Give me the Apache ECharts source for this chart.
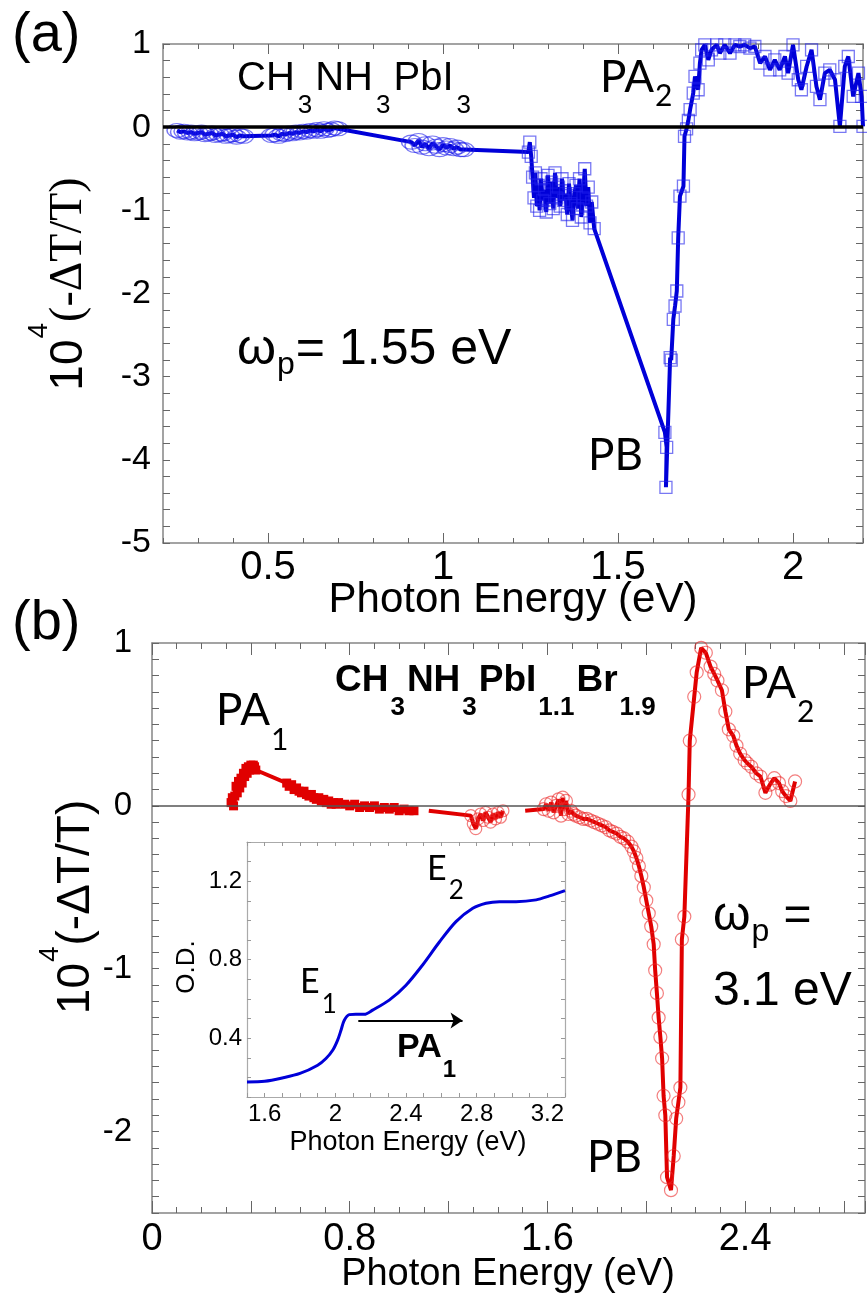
<!DOCTYPE html>
<html>
<head>
<meta charset="utf-8">
<title>Transient photoinduced absorption spectra</title>
<script src="https://cdn.jsdelivr.net/npm/echarts@6/dist/echarts.min.js"></script>
<style>
html, body { margin: 0; padding: 0; background: #fff; }
#chart { width: 867px; height: 1304px; }
</style>
</head>
<body>
<div id="chart"></div>
<script>
// ---- panel (a): CH3NH3PbI3, pump 1.55 eV ----
// low-energy points (circles)
var aCircleEnergy = [
  0.24, 0.25, 0.26, 0.27, 0.28, 0.29, 0.30, 0.31, 0.32, 0.33,
  0.34, 0.35, 0.36, 0.37, 0.38, 0.39, 0.40, 0.41, 0.42, 0.43,
  0.51, 0.52, 0.53, 0.54, 0.55, 0.56, 0.57, 0.58, 0.59, 0.60,
  0.61, 0.62, 0.63, 0.64, 0.65, 0.66, 0.67, 0.68, 0.69, 0.70,
  0.91, 0.92, 0.93, 0.94, 0.95, 0.96, 0.97, 0.98, 0.99, 1.00,
  1.01, 1.02, 1.03, 1.04, 1.05, 1.06
];
var aCircleSignal = [
  -0.04, -0.06, -0.05, -0.07, -0.06, -0.08, -0.07, -0.06, -0.09, -0.08,
  -0.07, -0.10, -0.09, -0.08, -0.11, -0.10, -0.09, -0.12, -0.10, -0.11,
  -0.10, -0.09, -0.11, -0.08, -0.09, -0.07, -0.08, -0.06, -0.07, -0.05,
  -0.06, -0.04, -0.05, -0.03, -0.05, -0.02, -0.04, -0.03, -0.01, -0.02,
  -0.18, -0.22, -0.16, -0.24, -0.20, -0.26, -0.19, -0.23, -0.27, -0.21,
  -0.25, -0.22, -0.26, -0.24, -0.27, -0.27
];
// high-energy points (squares)
var aSquareEnergy = [
  1.244, 1.248, 1.252, 1.256, 1.260, 1.264, 1.268, 1.272, 1.276, 1.280,
  1.285, 1.290, 1.295, 1.300, 1.305, 1.310, 1.315, 1.320, 1.325, 1.330,
  1.335, 1.340, 1.345, 1.350, 1.355, 1.360, 1.365, 1.370, 1.375, 1.380,
  1.385, 1.390, 1.395, 1.400, 1.405, 1.410, 1.415, 1.420, 1.425, 1.432,
  1.634, 1.639, 1.637, 1.649, 1.652, 1.658, 1.663, 1.668, 1.672, 1.677,
  1.687, 1.690, 1.696, 1.701, 1.706, 1.715, 1.720, 1.729, 1.734, 1.739,
  1.748, 1.758, 1.767, 1.782, 1.791, 1.805, 1.820, 1.834, 1.848, 1.862,
  1.877, 1.891, 1.906, 1.920, 1.934, 1.948, 1.962, 1.977, 1.986, 2.000,
  2.015, 2.024, 2.039, 2.053, 2.067, 2.077, 2.091, 2.105, 2.120, 2.134,
  2.148, 2.158, 2.172, 2.187, 2.196, 2.200
];
var aSquareSignal = [
  -0.30, -0.18, -0.35, -0.60, -0.85, -0.55, -0.95, -0.70, -1.00, -0.62,
  -0.88, -0.75, -1.02, -0.58, -0.92, -0.66, -0.98, -0.55, -0.85, -0.72,
  -0.95, -0.62, -0.88, -0.80, -1.05, -0.68, -0.92, -1.12, -0.80, -0.70,
  -0.98, -0.62, -1.08, -0.85, -0.50, -0.95, -0.72, -1.15, -0.90, -1.22,
  -3.67, -3.85, -4.33, -2.77, -2.80, -2.31, -2.15, -1.97, -1.33, -0.83,
  -0.71, -0.11, -0.02, 0.08, 0.21, 0.41, 0.61, 0.45, 0.77, 0.93,
  0.99, 0.81, 0.93, 0.99, 0.89, 0.99, 0.89, 0.99, 0.97, 0.99,
  0.95, 0.97, 0.77, 0.85, 0.69, 0.81, 0.69, 0.85, 0.65, 0.99,
  0.57, 0.45, 0.73, 0.93, 0.49, 0.33, 0.65, 0.69, 0.57, 0.01,
  0.73, 0.85, 0.37, 0.65, 0.37, 0.01
];

// ---- panel (b): CH3NH3PbI1.1Br1.9, pump 3.1 eV ----
var bSquareEnergy = [
  0.320, 0.325, 0.330, 0.335, 0.340, 0.345, 0.350, 0.355, 0.360, 0.365,
  0.370, 0.375, 0.380, 0.385, 0.390, 0.395, 0.400, 0.405, 0.410, 0.415,
  0.420, 0.545, 0.555, 0.565, 0.575, 0.585, 0.595, 0.605, 0.615, 0.625,
  0.635, 0.645, 0.655, 0.665, 0.675, 0.685, 0.695, 0.705, 0.715, 0.725,
  0.735, 0.745, 0.755, 0.780, 0.800, 0.820, 0.840, 0.860, 0.880, 0.900,
  0.920, 0.940, 0.960, 0.980, 1.000, 1.020, 1.040, 1.060
];
var bSquareSignal = [
  0.02, 0.05, 0.00, 0.06, 0.12, 0.08, 0.15, 0.11, 0.17, 0.14,
  0.20, 0.18, 0.23, 0.20, 0.24, 0.22, 0.25, 0.23, 0.25, 0.24,
  0.22, 0.14, 0.12, 0.13, 0.10, 0.11, 0.09, 0.08, 0.09, 0.07,
  0.06, 0.07, 0.05, 0.04, 0.05, 0.03, 0.04, 0.02, 0.03, 0.01,
  0.02, 0.01, 0.02, 0.01, 0.00, 0.01, -0.01, 0.00, -0.01, 0.00,
  -0.02, -0.01, -0.02, -0.01, -0.03, -0.02, -0.03, -0.03
];
var bMidEnergy = [1.12, 1.29, 1.30, 1.31, 1.32, 1.33, 1.34, 1.35, 1.36, 1.37, 1.38, 1.39, 1.40, 1.41, 1.42];
var bMidSignal = [-0.03, -0.06, -0.11, -0.14, -0.08, -0.05, -0.09, -0.04, -0.07, -0.10, -0.05, -0.08, -0.04, -0.07, -0.03];
var bHighEnergy = [
  1.510, 1.585, 1.595, 1.605, 1.615, 1.625, 1.635, 1.645, 1.655, 1.662,
  1.668, 1.675, 1.685, 1.695, 1.705, 1.715, 1.730, 1.745, 1.760, 1.775,
  1.790, 1.805, 1.820, 1.835, 1.850, 1.865, 1.880, 1.895, 1.910, 1.925,
  1.940, 1.950, 1.960, 1.970, 1.980, 1.990, 2.000, 2.010, 2.020, 2.030,
  2.036, 2.043, 2.050, 2.057, 2.064, 2.070, 2.077, 2.084, 2.100, 2.111,
  2.121, 2.130, 2.138, 2.144, 2.154, 2.171, 2.176, 2.194, 2.204, 2.222,
  2.241, 2.260, 2.275, 2.288, 2.306, 2.320, 2.334, 2.352, 2.365, 2.380,
  2.398, 2.410, 2.425, 2.445, 2.462, 2.482, 2.500, 2.518, 2.537, 2.550,
  2.565, 2.583, 2.602
];
var bHighSignal = [
  -0.03, -0.02, 0.01, -0.03, 0.02, -0.04, 0.00, 0.04, -0.06, 0.05,
  -0.02, 0.03, -0.05, -0.03, -0.05, -0.06, -0.07, -0.08, -0.08, -0.09,
  -0.10, -0.11, -0.12, -0.13, -0.15, -0.16, -0.17, -0.19, -0.20, -0.22,
  -0.25, -0.28, -0.32, -0.37, -0.43, -0.50, -0.58, -0.66, -0.74, -0.85,
  -1.01, -1.15, -1.30, -1.42, -1.55, -1.78, -1.90, -2.28, -2.36, -2.15,
  -1.92, -1.82, -1.73, -0.82, -0.68, 0.07, 0.40, 0.67, 0.82, 0.97,
  0.94, 0.855, 0.81, 0.77, 0.71, 0.58, 0.47, 0.43, 0.37, 0.32,
  0.28, 0.26, 0.24, 0.20, 0.18, 0.08, 0.13, 0.17, 0.14, 0.09,
  0.06, 0.03, 0.15
];

// ---- inset: absorption (O.D.) ----
var odEnergy = [1.50, 1.60, 1.70, 1.80, 1.90, 1.947, 1.985, 2.013, 2.032, 2.05, 2.079, 2.116, 2.164,
  2.211, 2.305, 2.40, 2.494, 2.589, 2.683, 2.778, 2.853, 2.929, 3.023, 3.137, 3.212, 3.30];
var odValue = [0.177, 0.18, 0.197, 0.22, 0.262, 0.296, 0.338, 0.39, 0.44, 0.49, 0.52, 0.522, 0.522,
  0.543, 0.594, 0.67, 0.773, 0.89, 0.994, 1.062, 1.088, 1.096, 1.096, 1.105, 1.125, 1.152];
var arrowFrom = [2.13, 0.49];
var arrowTo = [2.72, 0.49];

// tick labels
var aXTicks = [0.5, 1, 1.5, 2];
var aYTicks = [-5, -4, -3, -2, -1, 0, 1];
var bXTicks = [0, 0.8, 1.6, 2.4];
var bYTicks = [-2, -1, 0, 1];
var insetXTicks = [1.6, 2, 2.4, 2.8, 3.2];
var insetYTicks = [0.4, 0.8, 1.2];

var SANS = 'Liberation Sans, Arial, sans-serif';
var SERIF = 'Liberation Serif, Times New Roman, serif';
var HUM = 'Lato, sans-serif';

function pairs(xs, ys) {
  return xs.map(function (x, i) { return [x, ys[i]]; });
}

function merge(a, b) {
  for (var k in b) {
    if (b[k] && typeof b[k] === 'object' && !Array.isArray(b[k]) && a[k] && typeof a[k] === 'object') {
      merge(a[k], b[k]);
    } else {
      a[k] = b[k];
    }
  }
  return a;
}

function ax(opt) {
  var base = {
    type: 'value',
    axisLine: { show: true, onZero: false, lineStyle: { color: '#858585', width: 1.5 } },
    axisTick: { show: true, inside: true, length: 6, lineStyle: { color: '#666', width: 1 } },
    axisLabel: { show: false, color: '#000', fontFamily: SANS },
    splitLine: { show: false }
  };
  return merge(base, opt);
}

function txt(s, x, y, size, family, align, rot) {
  return {
    type: 'text', x: x, y: y, rotation: rot || 0,
    style: { text: s, fontSize: size, fontFamily: family || SANS, fill: '#000',
      align: align || 'left', verticalAlign: 'middle' }
  };
}

var measureCtx = document.createElement('canvas').getContext('2d');
function textWidth(s, size, family, weight) {
  measureCtx.font = (weight || 'normal') + ' ' + size + 'px ' + family;
  return measureCtx.measureText(s).width;
}

// text with sub/superscripts laid out piece by piece
// pieces: [text, kind, family]  kind 0 normal, 1 subscript, 2 superscript
// y is the vertical centre of the normal text
function scriptText(x, y, pieces, o) {
  var children = [];
  var cx = 0;
  var weight = o.weight || 'normal';
  pieces.forEach(function (p) {
    var kind = p[1] || 0;
    var fam = p[2] || o.family;
    var size = kind ? o.small : o.size;
    var pad = kind ? (o.pad || 0) : 0;
    cx += pad;
    children.push({
      type: 'text', x: cx, y: kind === 1 ? o.shift : (kind === 2 ? -o.shift : 0),
      style: { text: p[0], fontSize: size, fontFamily: fam, fontWeight: weight, fill: '#000',
        align: 'left', verticalAlign: 'middle' }
    });
    cx += textWidth(p[0], size, fam, weight) + pad;
  });
  if (o.align === 'center') {
    children.forEach(function (c) { c.x -= cx / 2; });
  }
  return { type: 'group', x: x, y: y, rotation: o.rotation || 0, children: children };
}

var nCircle = aCircleEnergy.length;
var hollowRed = { color: 'rgba(255,255,255,0)', borderColor: 'rgba(235,40,40,0.6)', borderWidth: 1.2 };
var insetLine = { lineStyle: { color: '#aaa', width: 1.2 } };
var insetTick = { length: 4, lineStyle: { color: '#999' } };

var option = {
  animation: false,
  backgroundColor: '#fff',
  grid: [
    { left: 163, top: 44, width: 700, height: 499, outerBoundsMode: 'none' },
    { left: 152, top: 643, width: 713, height: 570, outerBoundsMode: 'none' },
    { left: 247, top: 842, width: 318, height: 255, outerBoundsMode: 'none',
      show: true, backgroundColor: '#fff', borderWidth: 0 }
  ],
  xAxis: [
    ax({ gridIndex: 0, position: 'bottom', min: 0.2, max: 2.2, interval: 0.1, axisTick: { length: 5 },
      axisLabel: { show: true, customValues: aXTicks, fontSize: 40, margin: 5 } }),
    ax({ gridIndex: 0, position: 'bottom', min: 0.2, max: 2.2, axisLine: { show: false },
      axisTick: { customValues: aXTicks, length: 10 } }),
    ax({ gridIndex: 0, position: 'top', min: 0.2, max: 2.2, interval: 0.1, axisTick: { length: 5 } }),
    ax({ gridIndex: 0, position: 'top', min: 0.2, max: 2.2, axisLine: { show: false },
      axisTick: { customValues: aXTicks, length: 10 } }),

    ax({ gridIndex: 1, position: 'bottom', min: 0, max: 2.885, interval: 0.1, axisTick: { length: 6 },
      axisLabel: { show: true, customValues: bXTicks, fontSize: 38, margin: 8 } }),
    ax({ gridIndex: 1, position: 'bottom', min: 0, max: 2.885, interval: 0.4, axisLine: { show: false },
      axisTick: { length: 12 } }),
    ax({ gridIndex: 1, position: 'top', min: 0, max: 2.885, interval: 0.1, axisTick: { length: 6 } }),
    ax({ gridIndex: 1, position: 'top', min: 0, max: 2.885, interval: 0.4, axisLine: { show: false },
      axisTick: { length: 12 } }),

    ax({ gridIndex: 2, position: 'bottom', min: 1.5, max: 3.3, interval: 0.1,
      axisLine: insetLine, axisTick: insetTick,
      axisLabel: { show: true, customValues: insetXTicks, fontSize: 24, margin: 5 } }),
    ax({ gridIndex: 2, position: 'top', min: 1.5, max: 3.3, interval: 0.1,
      axisLine: insetLine, axisTick: insetTick })
  ],
  yAxis: [
    ax({ gridIndex: 0, position: 'left', min: -5, max: 1, interval: 0.2, axisTick: { length: 7 },
      axisLabel: { show: true, customValues: aYTicks, fontSize: 34, margin: 12 } }),
    ax({ gridIndex: 0, position: 'right', min: -5, max: 1, interval: 0.2, axisTick: { length: 7 } }),

    ax({ gridIndex: 1, position: 'left', min: -2.5, max: 1, interval: 0.1, axisTick: { length: 7 },
      axisLabel: { show: true, customValues: bYTicks, fontSize: 33, margin: 20 } }),
    ax({ gridIndex: 1, position: 'right', min: -2.5, max: 1, interval: 0.1, axisTick: { length: 7 } }),

    ax({ gridIndex: 2, position: 'left', min: 0.1, max: 1.4, interval: 0.1,
      axisLine: insetLine, axisTick: insetTick,
      axisLabel: { show: true, customValues: insetYTicks, fontSize: 24, margin: 5 } }),
    ax({ gridIndex: 2, position: 'right', min: 0.1, max: 1.4, interval: 0.1,
      axisLine: insetLine, axisTick: insetTick })
  ],
  series: [
    {
      name: 'CH3NH3PbI3', type: 'line', xAxisIndex: 0, yAxisIndex: 0,
      data: pairs(aCircleEnergy.concat(aSquareEnergy), aCircleSignal.concat(aSquareSignal)),
      showAllSymbol: true,
      symbol: function (v, p) { return p.dataIndex < nCircle ? 'circle' : 'rect'; },
      symbolSize: function (v, p) { return p.dataIndex < nCircle ? [20, 14] : 12; },
      lineStyle: { color: '#0000d8', width: 4 },
      itemStyle: { color: 'rgba(255,255,255,0)', borderColor: 'rgba(30,30,235,0.6)', borderWidth: 1.3 },
      markLine: {
        silent: true, symbol: ['none', 'none'], label: { show: false },
        lineStyle: { color: '#000', width: 3.5, type: 'solid' },
        data: [{ yAxis: 0 }]
      }
    },
    {
      name: 'PbIBr low', type: 'line', xAxisIndex: 4, yAxisIndex: 2,
      data: pairs(bSquareEnergy, bSquareSignal),
      showAllSymbol: true, symbol: 'rect', symbolSize: 9,
      lineStyle: { color: '#e00000', width: 4 },
      itemStyle: { color: '#e00000' },
      markLine: {
        silent: true, symbol: ['none', 'none'], label: { show: false },
        lineStyle: { color: '#555', width: 1.5, type: 'solid' },
        data: [{ yAxis: 0 }]
      }
    },
    {
      name: 'PbIBr mid', type: 'line', xAxisIndex: 4, yAxisIndex: 2,
      data: pairs(bMidEnergy, bMidSignal),
      showAllSymbol: true,
      symbol: function (v, p) { return p.dataIndex === 0 ? 'none' : 'circle'; },
      symbolSize: 12,
      lineStyle: { color: '#e00000', width: 4 },
      itemStyle: hollowRed
    },
    {
      name: 'PbIBr high', type: 'line', xAxisIndex: 4, yAxisIndex: 2,
      data: pairs(bHighEnergy, bHighSignal),
      showAllSymbol: true,
      symbol: function (v, p) { return p.dataIndex === 0 ? 'none' : 'circle'; },
      symbolSize: 13,
      lineStyle: { color: '#e00000', width: 4 },
      itemStyle: hollowRed
    },
    {
      name: 'O.D.', type: 'line', xAxisIndex: 8, yAxisIndex: 4,
      data: pairs(odEnergy, odValue),
      symbol: 'none', smooth: 0.3,
      lineStyle: { color: '#0000d8', width: 3 },
      markLine: {
        silent: true, symbol: ['none', 'arrow'], symbolSize: 12, label: { show: false },
        lineStyle: { color: '#000', width: 2, type: 'solid' },
        data: [[{ coord: arrowFrom }, { coord: arrowTo }]]
      }
    }
  ],
  graphic: [
    // panel (a)
    txt('(a)', 12, 36, 56),
    scriptText(237, 79, [['CH'], ['3', 1], ['NH'], ['3', 1], ['PbI'], ['3', 1]],
      { size: 40, small: 26, shift: 27, pad: 3, family: SANS }),
    scriptText(600, 78, [['PA'], ['2', 1]], { size: 44, small: 30, shift: 18, pad: 1, family: HUM }),
    scriptText(237, 350, [['ω'], ['p', 1], ['= 1.55 eV']], { size: 50, small: 32, shift: 15, pad: 1, family: SANS }),
    txt('PB', 588, 456, 44, HUM),
    txt('Photon Energy (eV)', 513, 600, 42, SANS, 'center'),
    scriptText(69, 284, [['10'], ['4', 2], ['(-ΔT/T)', 0, SERIF]],
      { size: 46, small: 28, shift: 30, pad: 1, family: SANS, align: 'center', rotation: Math.PI / 2 }),
    // panel (b)
    txt('(b)', 12, 624, 56),
    scriptText(216, 711, [['PA'], ['1', 1]], { size: 44, small: 30, shift: 29, pad: 1, family: HUM }),
    scriptText(335, 681, [['CH'], ['3', 1], ['NH'], ['3', 1], ['PbI'], ['1.1', 1], ['Br'], ['1.9', 1]],
      { size: 37, small: 26, shift: 27, pad: 2, family: SANS, weight: 'bold' }),
    scriptText(742, 684, [['PA'], ['2', 1]], { size: 44, small: 30, shift: 28, pad: 1, family: HUM }),
    scriptText(713, 917, [['ω'], ['p', 1], [' =']], { size: 48, small: 32, shift: 15, pad: 1, family: SANS }),
    txt('3.1 eV', 713, 992, 48),
    txt('PB', 587, 1158, 44, HUM),
    txt('Photon Energy (eV)', 508, 1275, 38, SANS, 'center'),
    scriptText(76, 907, [['10'], ['4', 2], ['(-ΔT/T)']],
      { size: 46, small: 28, shift: 26, pad: 1, family: SANS, align: 'center', rotation: Math.PI / 2 }),
    // inset
    scriptText(427, 869, [['E'], ['2', 1]], { size: 34, small: 26, shift: 22, pad: 2, family: HUM }),
    scriptText(300, 982, [['E'], ['1', 1]], { size: 34, small: 26, shift: 23, pad: 2, family: HUM }),
    scriptText(397, 1048, [['PA'], ['1', 1]], { size: 34, small: 24, shift: 22, pad: 1, family: SANS, weight: 'bold' }),
    txt('Photon Energy (eV)', 408, 1143, 27, SANS, 'center'),
    txt('O.D.', 187, 967, 26, SANS, 'center', Math.PI / 2)
  ]
};

var chart = echarts.init(document.getElementById('chart'));
chart.setOption(option);
</script>
</body>
</html>
